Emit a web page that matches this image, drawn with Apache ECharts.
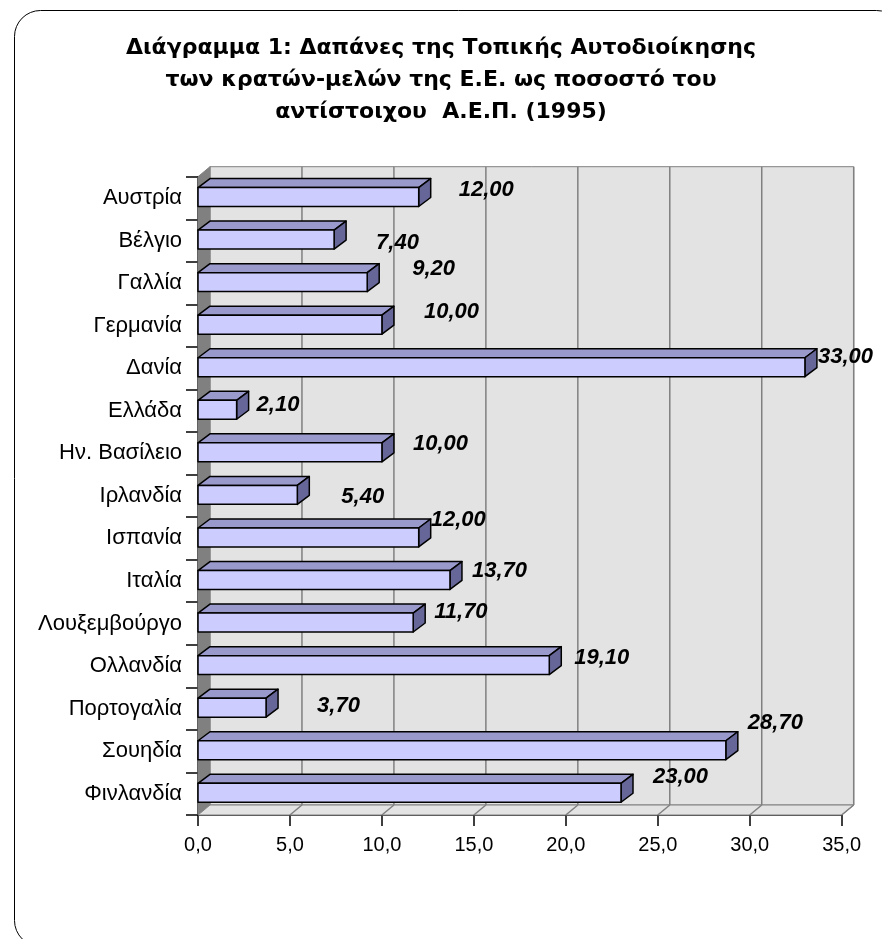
<!DOCTYPE html>
<html>
<head>
<meta charset="utf-8">
<script src="https://cdn.jsdelivr.net/npm/echarts@6/dist/echarts.min.js"></script>
<style>
  html, body { margin: 0; padding: 0; background: #ffffff; }
  #chart { width: 882px; height: 939px; }
</style>
</head>
<body>
<div id="chart"></div>
<script>
// Title lines
const titleLines = [
  'Διάγραμμα 1: Δαπάνες της Τοπικής Αυτοδιοίκησης',
  'των κρατών-μελών της Ε.Ε. ως ποσοστό του',
  'αντίστοιχου  Α.Ε.Π. (1995)'
];

// Member states (top to bottom)
const countries = [
  'Αυστρία', 'Βέλγιο', 'Γαλλία', 'Γερμανία', 'Δανία', 'Ελλάδα', 'Ην. Βασίλειο',
  'Ιρλανδία', 'Ισπανία', 'Ιταλία', 'Λουξεμβούργο', 'Ολλανδία', 'Πορτογαλία',
  'Σουηδία', 'Φινλανδία'
];

// Local government spending, % of GDP
const shares = [12.00, 7.40, 9.20, 10.00, 33.00, 2.10, 10.00, 5.40, 12.00, 13.70, 11.70, 19.10, 3.70, 28.70, 23.00];

// Value axis ticks
const axisMin = 0;
const axisMax = 35;
const axisStep = 5;

// Value-label placement: [px right of bar end, px from band centre]
const labelNudge = [
  [40, -8], [42, 2], [45, -14], [42, -14], [13, -11], [20, -6], [31, -9], [44, 1],
  [12, -18], [22, -10], [21, -12], [25, -8], [51, -3], [22, -28], [32, -17]
];

const FONT = '"Liberation Sans", Arial, sans-serif';
const TITLE_FONT = '"DejaVu Sans", Verdana, sans-serif';
const WALL_DX = 12, WALL_DY = -10;
const BAR_DX = 12, BAR_DY = -9;

const commaNum = (v, d) => v.toFixed(d).replace('.', ',');

function renderWalls(params, api) {
  const cs = params.coordSys;
  const x0 = cs.x, x1 = cs.x + cs.width, top = cs.y, bot = cs.y + cs.height;
  const wallFill = '#e3e3e3', edge = '#808080';
  const children = [];
  // back wall
  children.push({
    type: 'polygon',
    shape: { points: [[x0 + WALL_DX, top + WALL_DY], [x1 + WALL_DX, top + WALL_DY], [x1 + WALL_DX, bot + WALL_DY], [x0 + WALL_DX, bot + WALL_DY]] },
    style: { fill: wallFill, stroke: edge, lineWidth: 1 }
  });
  // side wall
  children.push({
    type: 'polygon',
    shape: { points: [[x0, top], [x0 + WALL_DX, top + WALL_DY], [x0 + WALL_DX, bot + WALL_DY], [x0, bot]] },
    style: { fill: '#808080', stroke: edge, lineWidth: 1 }
  });
  // floor
  children.push({
    type: 'polygon',
    shape: { points: [[x0, bot], [x0 + WALL_DX, bot + WALL_DY], [x1 + WALL_DX, bot + WALL_DY], [x1, bot]] },
    style: { fill: wallFill, stroke: edge, lineWidth: 1 }
  });
  // gridlines on back wall and floor
  for (let v = axisMin + axisStep; v <= axisMax; v += axisStep) {
    const x = api.coord([v, 0])[0];
    children.push({
      type: 'line',
      shape: { x1: x + WALL_DX, y1: top + WALL_DY, x2: x + WALL_DX, y2: bot + WALL_DY },
      style: { stroke: edge, lineWidth: 1.5 }
    });
    children.push({
      type: 'line',
      shape: { x1: x, y1: bot, x2: x + WALL_DX, y2: bot + WALL_DY },
      style: { stroke: edge, lineWidth: 1.5 }
    });
  }
  return { type: 'group', children: children };
}

function renderBar(params, api) {
  const v = api.value(0), idx = api.value(1);
  const end = api.coord([v, idx]);
  const start = api.coord([0, idx]);
  const band = api.size([0, 1])[1];
  const cy = end[1];
  const t = cy - band * 0.245, b = cy + band * 0.2;
  const xa = start[0], xb = end[0];
  const line = { stroke: '#000000', lineWidth: 1.5, lineJoin: 'round' };
  const nudge = labelNudge[idx];
  return {
    type: 'group',
    children: [
      { type: 'polygon', shape: { points: [[xa, t], [xa + BAR_DX, t + BAR_DY], [xb + BAR_DX, t + BAR_DY], [xb, t]] },
        style: Object.assign({ fill: '#9999cc' }, line) },
      { type: 'polygon', shape: { points: [[xb, t], [xb + BAR_DX, t + BAR_DY], [xb + BAR_DX, b + BAR_DY], [xb, b]] },
        style: Object.assign({ fill: '#666699' }, line) },
      { type: 'rect', shape: { x: xa, y: t, width: xb - xa, height: b - t },
        style: Object.assign({ fill: '#ccccff' }, line) },
      { type: 'text', x: xb + nudge[0], y: cy + nudge[1],
        style: { text: commaNum(v, 2), fill: '#000000', font: 'italic bold 22px ' + FONT,
                 align: 'left', verticalAlign: 'middle' } }
    ]
  };
}

const chart = echarts.init(document.getElementById('chart'), null, { renderer: 'canvas' });
chart.setOption({
  backgroundColor: '#ffffff',
  animation: false,
  title: {
    text: titleLines.join('\n'),
    left: 'center',
    top: 32,
    padding: 0,
    textStyle: { fontFamily: TITLE_FONT, fontSize: 22, fontWeight: 'bold', color: '#000000', lineHeight: 32 }
  },
  graphic: [{
    type: 'rect', left: 12, top: 8, z: -10,
    shape: { width: 888, height: 936, r: 26 },
    style: { fill: 'none', stroke: '#000000', lineWidth: 1 }
  }],
  grid: { left: 198, right: 40.3, top: 176.7, bottom: 124 },
  xAxis: {
    type: 'value',
    min: axisMin, max: axisMax, interval: axisStep,
    axisLine: { show: true, lineStyle: { color: '#000000', width: 1.5 } },
    axisTick: { show: true, length: 11, lineStyle: { color: '#000000', width: 1.5 } },
    axisLabel: { margin: 20, fontFamily: FONT, fontSize: 20, color: '#000000', formatter: v => commaNum(v, 1) },
    splitLine: { show: false }
  },
  yAxis: {
    type: 'category',
    inverse: true,
    data: countries,
    axisLine: { show: true, lineStyle: { color: '#000000', width: 1.5 } },
    axisTick: { show: true, length: 12, lineStyle: { color: '#000000', width: 1.5 } },
    axisLabel: { margin: 16, fontFamily: FONT, fontSize: 22, color: '#000000' },
    splitLine: { show: false }
  },
  series: [
    { type: 'custom', renderItem: renderWalls, data: [[0, 0]], z: 1, silent: true, clip: false },
    { type: 'custom', renderItem: renderBar, data: shares.map((v, i) => [v, i]), z: 2, silent: true, clip: false }
  ]
});
</script>
</body>
</html>
